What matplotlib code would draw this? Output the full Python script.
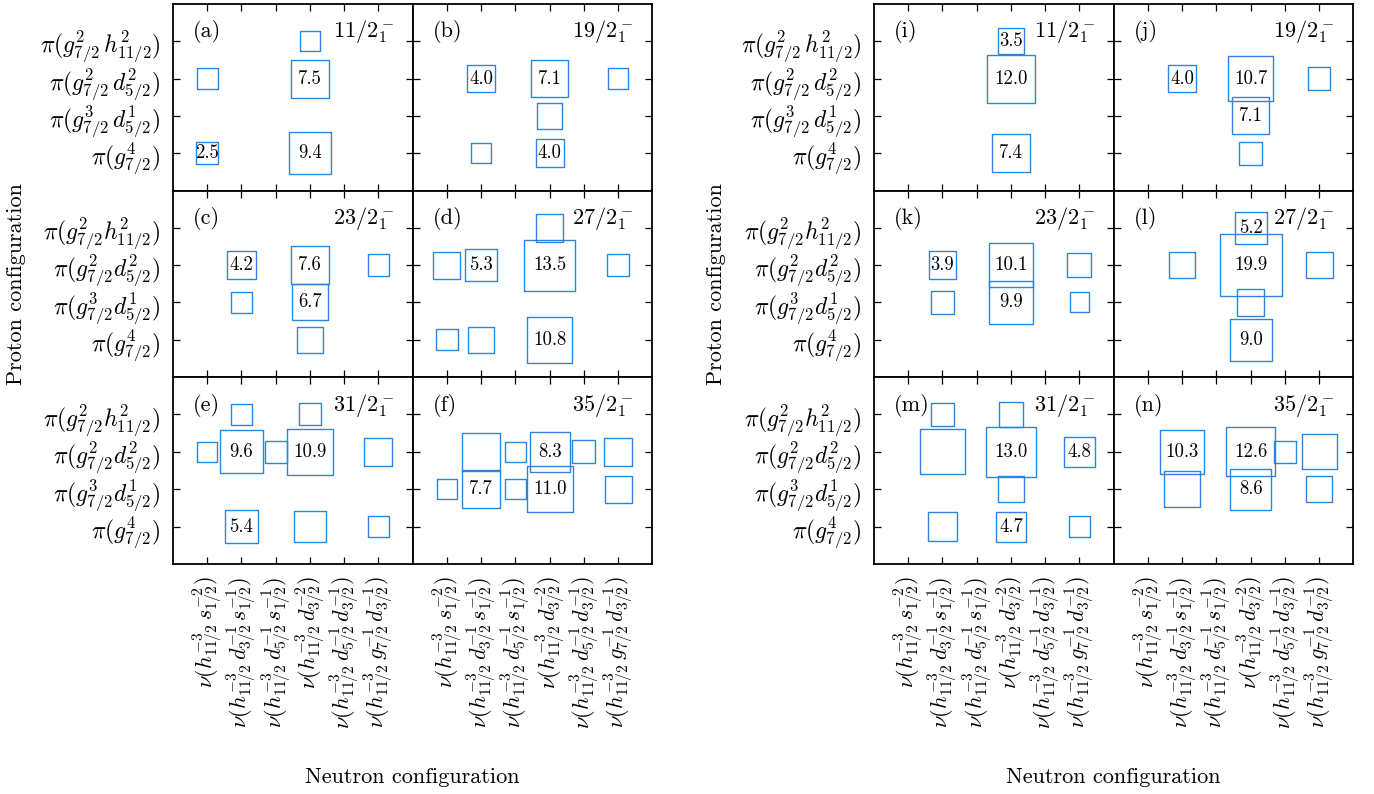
import matplotlib
matplotlib.use('Agg')
import matplotlib.pyplot as plt
import numpy as np

plt.rcParams.update({
    'font.family': 'serif',
    'font.serif': ['cmr10'],
    'mathtext.fontset': 'cm',
    'axes.unicode_minus': False,
    'axes.formatter.use_mathtext': True,
})

# ---------------- data ----------------
# proton configurations (rows, top to bottom)
proton_top = [r'$\pi(g^2_{7/2}\,h^2_{11/2})$', r'$\pi(g^2_{7/2}\,d^2_{5/2})$',
              r'$\pi(g^3_{7/2}\,d^1_{5/2})$', r'$\pi(g^4_{7/2})$']
proton_other = [r'$\pi(g^2_{7/2}h^2_{11/2})$', r'$\pi(g^2_{7/2}d^2_{5/2})$',
                r'$\pi(g^3_{7/2}d^1_{5/2})$', r'$\pi(g^4_{7/2})$']
# neutron configurations (columns, left to right)
neutron = [r'$\nu(h^{-3}_{11/2}\,s^{-2}_{1/2})$',
           r'$\nu(h^{-3}_{11/2}\,d^{-1}_{3/2}\,s^{-1}_{1/2})$',
           r'$\nu(h^{-3}_{11/2}\,d^{-1}_{5/2}\,s^{-1}_{1/2})$',
           r'$\nu(h^{-3}_{11/2}\,d^{-2}_{3/2})$',
           r'$\nu(h^{-3}_{11/2}\,d^{-1}_{5/2}\,d^{-1}_{3/2})$',
           r'$\nu(h^{-3}_{11/2}\,g^{-1}_{7/2}\,d^{-1}_{3/2})$']

# percentages (rows: g2h2, g2d2, g3d1, g4 ; cols: 6 neutron configs), 0 = none
pct_a = [[0, 0, 0, 2.1, 0, 0],
         [2.3, 0, 0, 7.5, 0, 0],
         [0, 0, 0, 0, 0, 0],
         [2.5, 0, 0, 9.4, 0, 0]]
pct_b = [[0, 0, 0, 0, 0, 0],
         [0, 4.0, 0, 7.1, 0, 2.2],
         [0, 0, 0, 3.4, 0, 0],
         [0, 2.1, 0, 4.0, 0, 0]]
pct_c = [[0, 0, 0, 0, 0, 0],
         [0, 4.2, 0, 7.6, 0, 2.35],
         [0, 2.2, 0, 6.7, 0, 0],
         [0, 0, 0, 3.5, 0, 0]]
pct_d = [[0, 0, 0, 3.9, 0, 0],
         [3.8, 5.3, 0, 13.5, 0, 2.4],
         [0, 0, 0, 0, 0, 0],
         [2.35, 3.4, 0, 10.8, 0, 0]]
pct_e = [[0, 2.35, 0, 2.5, 0, 0],
         [2.15, 9.6, 2.6, 10.9, 0, 4.05],
         [0, 0, 0, 0, 0, 0],
         [0, 5.4, 0, 5.2, 0, 2.2]]
pct_f = [[0, 0, 0, 0, 0, 0],
         [0, 7.6, 2.15, 8.3, 2.75, 3.95],
         [2.15, 7.7, 2.15, 11.0, 0, 3.75],
         [0, 0, 0, 0, 0, 0]]
pct_i = [[0, 0, 0, 3.5, 0, 0],
         [0, 0, 0, 12.0, 0, 0],
         [0, 0, 0, 0, 0, 0],
         [0, 0, 0, 7.4, 0, 0]]
pct_j = [[0, 0, 0, 0, 0, 0],
         [0, 4.0, 0, 10.7, 0, 2.65],
         [0, 0, 0, 7.1, 0, 0],
         [0, 0, 0, 2.75, 0, 0]]
pct_k = [[0, 0, 0, 0, 0, 0],
         [0, 3.9, 0, 10.1, 0, 3.0],
         [0, 2.75, 0, 9.9, 0, 2.05],
         [0, 0, 0, 0, 0, 0]]
pct_l = [[0, 0, 0, 5.2, 0, 0],
         [0, 3.5, 0, 19.9, 0, 3.7],
         [0, 0, 0, 3.85, 0, 0],
         [0, 0, 0, 9.0, 0, 0]]
pct_m = [[0, 2.6, 0, 3.05, 0, 0],
         [0, 10.4, 0, 13.0, 0, 4.8],
         [0, 0, 0, 3.4, 0, 0],
         [0, 4.35, 0, 4.7, 0, 2.15]]
pct_n = [[0, 0, 0, 0, 0, 0],
         [0, 10.3, 0, 12.6, 2.45, 6.3],
         [0, 6.6, 0, 8.6, 0, 3.5],
         [0, 0, 0, 0, 0, 0]]

# cells (row, col) whose value is written inside the square
lab_a = [(1, 3), (3, 0), (3, 3)]
lab_b = [(1, 1), (1, 3), (3, 3)]
lab_c = [(1, 1), (1, 3), (2, 3)]
lab_d = [(1, 1), (1, 3), (3, 3)]
lab_e = [(1, 1), (1, 3), (3, 1)]
lab_f = [(1, 3), (2, 1), (2, 3)]
lab_i = [(0, 3), (1, 3), (3, 3)]
lab_j = [(1, 1), (1, 3), (2, 3)]
lab_k = [(1, 1), (1, 3), (2, 3)]
lab_l = [(0, 3), (1, 3), (3, 3)]
lab_m = [(1, 3), (1, 5), (3, 3)]
lab_n = [(1, 1), (1, 3), (2, 3)]

panel_tags = ['(a)', '(b)', '(c)', '(d)', '(e)', '(f)',
              '(i)', '(j)', '(k)', '(l)', '(m)', '(n)']
states = [r'$11/2^-_1$', r'$19/2^-_1$', r'$23/2^-_1$', r'$27/2^-_1$',
          r'$31/2^-_1$', r'$35/2^-_1$'] * 2
pcts = [pct_a, pct_b, pct_c, pct_d, pct_e, pct_f,
        pct_i, pct_j, pct_k, pct_l, pct_m, pct_n]
labs = [lab_a, lab_b, lab_c, lab_d, lab_e, lab_f,
        lab_i, lab_j, lab_k, lab_l, lab_m, lab_n]

# ---------------- layout ----------------
W, H = 1374, 794
fig = plt.figure(figsize=(W / 100, H / 100), dpi=100)

group_x0 = [173, 874]
pw = 239.7
row_y = [4, 190.5, 377, 564]
BLUE = '#2a86dc'

for k in range(12):
    g = k // 6
    r = (k % 6) // 2
    c = k % 2
    x0 = group_x0[g] + c * pw
    y_top = row_y[r]
    y_bot = row_y[r + 1]
    ax = fig.add_axes([x0 / W, 1 - y_bot / H, pw / W, (y_bot - y_top) / H])
    ax.set_xlim(0, 7)
    ax.set_ylim(0, 5)
    ax.set_xticks(range(1, 7))
    ax.set_yticks([4, 3, 2, 1])
    ax.tick_params(direction='in', length=5, width=0.9, top=True, right=True,
                   pad=9)
    ax.tick_params(axis='y', labelsize=17)
    ax.tick_params(axis='x', labelsize=16)
    for sp in ax.spines.values():
        sp.set_linewidth(1.3)
    if c == 0:
        ax.set_yticklabels(proton_top if r == 0 else proton_other)
    else:
        ax.set_yticklabels([])
    if r == 2:
        ax.set_xticklabels(neutron, rotation=90)
    else:
        ax.set_xticklabels([])

    pct = pcts[k]
    xs, ys, ss = [], [], []
    for i, row in enumerate(pct):
        for j, v in enumerate(row):
            if v > 0:
                xs.append(j + 1)
                ys.append(4 - i)
                ss.append(100 * v)
    ax.scatter(xs, ys, s=ss, marker='s', facecolors='none',
               edgecolors=BLUE, linewidths=1.0, zorder=3)
    for (i, j) in labs[k]:
        ax.text(j + 1, 4 - i, f'{pct[i][j]:.1f}', ha='center', va='center',
                fontsize=13.5, zorder=4)
    ax.text(0.085, 0.85, panel_tags[k], transform=ax.transAxes,
            ha='left', va='center', fontsize=16)
    ax.text(0.92, 0.85, states[k], transform=ax.transAxes,
            ha='right', va='center', fontsize=16)

for g, (xc, yl) in enumerate([(412, 16), (1113, 716)]):
    fig.text(xc / W, 1 - 777 / H, 'Neutron configuration', ha='center',
             va='center', fontsize=16)
    fig.text(yl / W, 1 - 284 / H, 'Proton configuration', ha='center',
             va='center', rotation=90, fontsize=16)

fig.savefig('out.png', dpi=100)
